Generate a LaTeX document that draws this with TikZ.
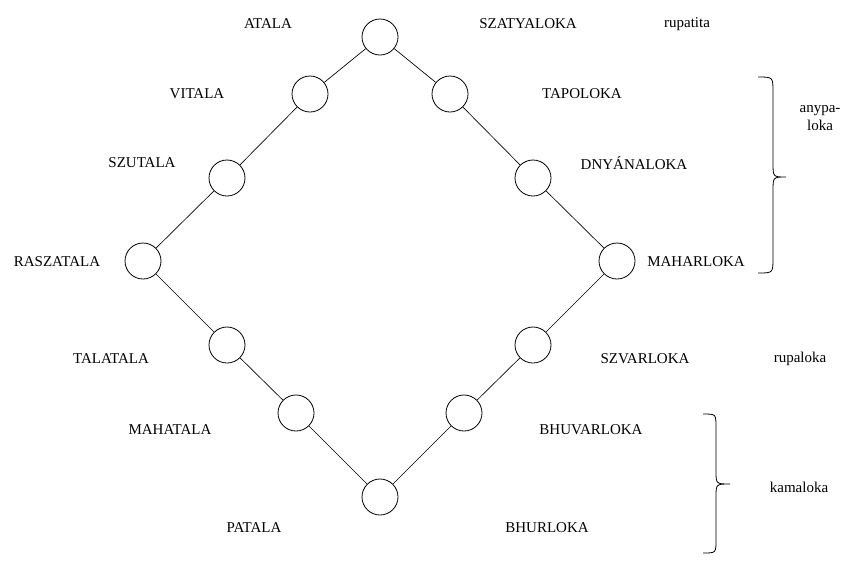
\documentclass[tikz,border=0pt]{standalone}
\usepackage{fontspec}
\setmainfont{Liberation Serif}
\usepackage{tikz}
\usetikzlibrary{positioning,calc}

\tikzset{
  world/.style={draw, circle, minimum size=27, inner sep=0pt, line width=0.6pt},
  lbl/.style={font=\fontsize{11.25}{13}\selectfont, inner sep=0pt},
  link/.style={line width=0.5pt},
  brace/.style={line width=0.6pt}
}

\begin{document}
\begin{tikzpicture}[x=0.75pt,y=-0.75pt]
            \useasboundingbox (0,0) rectangle (853,568);

            % Worlds (diamond)
            \node[world] (top) at (380,37) {};
            \node[world] (vitala) at (310,94) {};
            \node[world] (tapoloka) at (450,94) {};
            \node[world] (szutala) at (227,178) {};
            \node[world] (dnyanaloka) at (533,178) {};
            \node[world] (raszatala) at (143,261) {};
            \node[world] (maharloka) at (617,261) {};
            \node[world] (talatala) at (227,345) {};
            \node[world] (szvarloka) at (533,345) {};
            \node[world] (mahatala) at (296,413) {};
            \node[world] (bhuvarloka) at (464,413) {};
            \node[world] (bottom) at (380,497) {};

            % Links
            \draw[link] (top) -- (vitala) -- (szutala) -- (raszatala) -- (talatala) -- (mahatala) -- (bottom);
            \draw[link] (top) -- (tapoloka) -- (dnyanaloka) -- (maharloka) -- (szvarloka) -- (bhuvarloka) -- (bottom);

            % Names, left side
            \node[lbl] (l-atala) at (268,24) {ATALA};
            \node[lbl] (l-vitala) at (197,94) {VITALA};
            \node[lbl] (l-szutala) at (142,163) {SZUTALA};
            \node[lbl] (l-raszatala) at (57,262) {RASZATALA};
            \node[lbl] (l-talatala) at (111,359) {TALATALA};
            \node[lbl] (l-mahatala) at (170,430) {MAHATALA};
            \node[lbl] (l-patala) at (254,528) {PATALA};

            % Names, right side
            \node[lbl] (l-szatyaloka) at (528,24) {SZATYALOKA};
            \node[lbl] (l-tapoloka) at (582,94) {TAPOLOKA};
            \node[lbl] (l-dnyanaloka) at (634,163) {DNYÁNALOKA};
            \node[lbl] (l-maharloka) at (696,262) {MAHARLOKA};
            \node[lbl] (l-szvarloka) at (645,359) {SZVARLOKA};
            \node[lbl] (l-bhuvarloka) at (591,430) {BHUVARLOKA};
            \node[lbl] (l-bhurloka) at (547,528) {BHURLOKA};

            % Groups
            \node[lbl] (rupatita) at (687,24) {rupatita};
            \node[lbl, align=center] (anypaloka) at (820,118) {anypa-\\loka};
            \node[lbl] (rupaloka) at (800,359) {rupaloka};
            \node[lbl] (kamaloka) at (799,487) {kamaloka};

            % Braces
            \draw[brace] (758,77) .. controls (773,77) .. (773,92) -- (773,163)
                .. controls (773,177) .. (786,177)
                .. controls (773,177) .. (773,191) -- (773,258)
                .. controls (773,273) .. (758,273);
            \draw[brace] (703,414) .. controls (716,414) .. (716,427) -- (716,471)
                .. controls (716,484) .. (730,484)
                .. controls (716,484) .. (716,497) -- (716,540)
                .. controls (716,553) .. (703,553);
        \end{tikzpicture}
\end{document}
